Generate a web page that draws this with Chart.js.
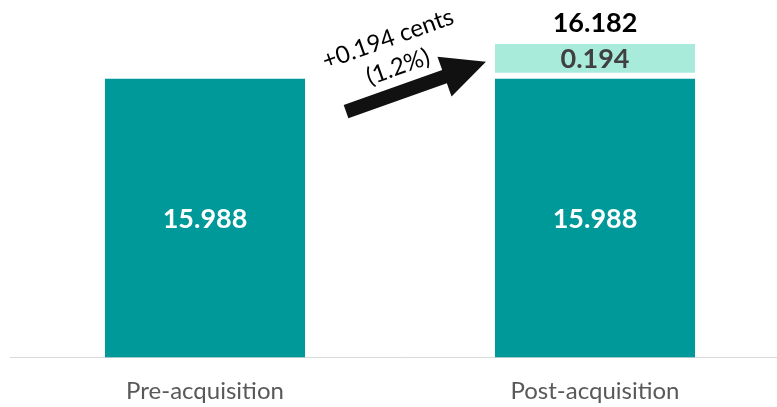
<!DOCTYPE html>
<html>
<head>
<meta charset="utf-8">
<script src="https://cdn.jsdelivr.net/npm/chart.js@4.4.1/dist/chart.umd.min.js"></script>
<style>
  html, body { margin: 0; padding: 0; background: #fff; overflow: hidden; }
  #wrap { position: relative; width: 790px; height: 426px; }
</style>
</head>
<body>
<div id="wrap"><canvas id="chart"></canvas></div>
<script>
const categories = ['Pre-acquisition', 'Post-acquisition'];
const baseValues = [15.988, 15.988];
const addedValues = [null, 0.194];
const totalLabels = [null, '16.182'];
const changeText = ['+0.194 cents', '(1.2%)'];

const FONT = 'Lato, "Open Sans", sans-serif';

// value labels + the annotation arrow
const labelsPlugin = {
  id: 'labels',
  afterDatasetsDraw(chart) {
    const ctx = chart.ctx;
    const area = chart.chartArea;
    const y = chart.scales.y;
    const base = chart.getDatasetMeta(0).data;
    const added = chart.getDatasetMeta(1).data;

    ctx.save();
    ctx.textAlign = 'center';
    ctx.textBaseline = 'middle';
    ctx.font = 'bold 27px ' + FONT;

    base.forEach((bar, i) => {
      ctx.fillStyle = '#ffffff';
      ctx.fillText(baseValues[i].toFixed(3), bar.x, (bar.y + area.bottom) / 2 + 1);
    });

    added.forEach((bar, i) => {
      if (addedValues[i] == null) return;
      ctx.fillStyle = '#404040';
      ctx.fillText(addedValues[i].toFixed(3), bar.x, (bar.y + bar.base) / 2 - 2);
      ctx.fillStyle = '#000000';
      ctx.fillText(totalLabels[i], bar.x, bar.y - 21);
    });

    // arrow from pre bar to post bar
    const pre = base[0], post = base[1];
    const tx = pre.x + pre.width / 2 + 41, ty = y.getPixelForValue(15.805);
    const px = post.x - post.width / 2 - 9, py = y.getPixelForValue(16.082);
    const len = Math.hypot(px - tx, py - ty);
    const ux = (px - tx) / len, uy = (py - ty) / len;
    const nx = -uy, ny = ux;
    const head = 44, hw = 21, sw = 7;
    const bx = px - ux * head, by = py - uy * head;
    ctx.fillStyle = '#111111';
    ctx.beginPath();
    ctx.moveTo(tx + nx * sw, ty + ny * sw);
    ctx.lineTo(bx + nx * sw, by + ny * sw);
    ctx.lineTo(bx + nx * hw, by + ny * hw);
    ctx.lineTo(px, py);
    ctx.lineTo(bx - nx * hw, by - ny * hw);
    ctx.lineTo(bx - nx * sw, by - ny * sw);
    ctx.lineTo(tx - nx * sw, ty - ny * sw);
    ctx.closePath();
    ctx.fill();

    const ang = Math.atan2(py - ty, px - tx);
    ctx.font = '24px ' + FONT;
    ctx.fillStyle = '#000000';
    ctx.save();
    ctx.translate(388, 39);
    ctx.rotate(ang);
    ctx.fillText(changeText[0], 0, 0);
    ctx.restore();
    ctx.save();
    ctx.translate(398, 67);
    ctx.rotate(ang);
    ctx.fillText(changeText[1], 0, 0);
    ctx.restore();
    ctx.restore();
  }
};

new Chart(document.getElementById('chart').getContext('2d'), {
  type: 'bar',
  data: {
    labels: categories,
    datasets: [{
      data: baseValues,
      backgroundColor: '#009999',
      borderWidth: 0
    }, {
      data: addedValues,
      backgroundColor: '#a9ebdb',
      borderColor: '#ffffff',
      borderWidth: { bottom: 6, top: 0, left: 0, right: 0 },
      borderSkipped: false
    }]
  },
  options: {
    responsive: true,
    maintainAspectRatio: false,
    animation: false,
    datasets: { bar: { barPercentage: 0.513, categoryPercentage: 1 } },
    layout: { padding: { top: 10, left: 10, right: 0, bottom: 0 } },
    scales: {
      x: {
        stacked: true,
        grid: { display: false, drawTicks: false },
        border: { display: true, color: '#d9d9d9', width: 1 },
        ticks: { color: '#595959', padding: 20, font: { family: FONT, size: 24 } }
      },
      y: {
        stacked: true,
        display: false,
        min: 14.441,
        max: 16.37
      }
    },
    plugins: {
      legend: { display: false },
      tooltip: { enabled: false }
    }
  },
  plugins: [labelsPlugin]
});
</script>
</body>
</html>
